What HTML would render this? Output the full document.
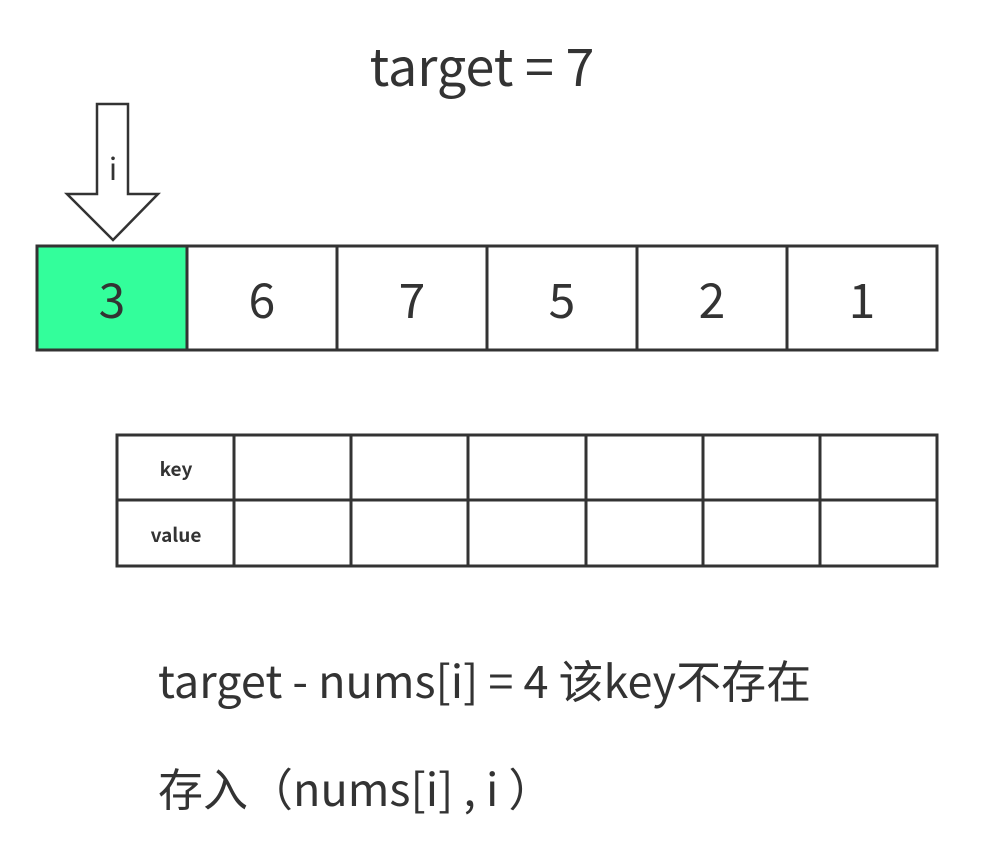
<!DOCTYPE html>
<html><head><meta charset="utf-8"><style>
html,body{margin:0;padding:0;background:#fff;}
svg{display:block}
text{font-family:"Noto Sans CJK SC","Liberation Sans",sans-serif;fill:#333;}
</style></head><body>
<svg width="1005" height="862" viewBox="0 0 1005 862" xmlns="http://www.w3.org/2000/svg">
<text x="482" y="86" font-size="52" text-anchor="middle">target = 7</text>
<polygon points="97,104 128,104 128,194 158,194 113,240 67,194 97,194" fill="#fff" stroke="#333" stroke-width="2.5"/>
<text x="113" y="180" font-size="30" text-anchor="middle">i</text>
<g stroke="#333" stroke-width="3">
<rect x="37" y="246" width="150" height="104" fill="#33fe9b"/>
<rect x="187" y="246" width="750" height="104" fill="none"/>
<line x1="337" y1="246" x2="337" y2="350"/><line x1="487" y1="246" x2="487" y2="350"/>
<line x1="637" y1="246" x2="637" y2="350"/><line x1="787" y1="246" x2="787" y2="350"/>
</g>
<g font-size="48" text-anchor="middle">
<text x="112" y="318">3</text><text x="262" y="318">6</text><text x="412" y="318">7</text>
<text x="562" y="318">5</text><text x="712" y="318">2</text><text x="862" y="318">1</text>
</g>
<g stroke="#333" stroke-width="3" fill="none">
<rect x="117" y="435" width="820" height="131"/>
<line x1="117" y1="500" x2="937" y2="500"/>
<line x1="234" y1="435" x2="234" y2="566"/><line x1="351" y1="435" x2="351" y2="566"/>
<line x1="468" y1="435" x2="468" y2="566"/><line x1="586" y1="435" x2="586" y2="566"/>
<line x1="703" y1="435" x2="703" y2="566"/><line x1="820" y1="435" x2="820" y2="566"/>
</g>
<text x="176" y="476" font-size="19" font-weight="bold" text-anchor="middle">key</text>
<text x="176" y="542" font-size="19" font-weight="bold" text-anchor="middle">value</text>
<text x="158" y="698" font-size="45">target - nums[i] = 4 该key不存在</text>
<text x="158" y="806" font-size="45">存入（nums[i] , i ）</text>
</svg>
</body></html>
